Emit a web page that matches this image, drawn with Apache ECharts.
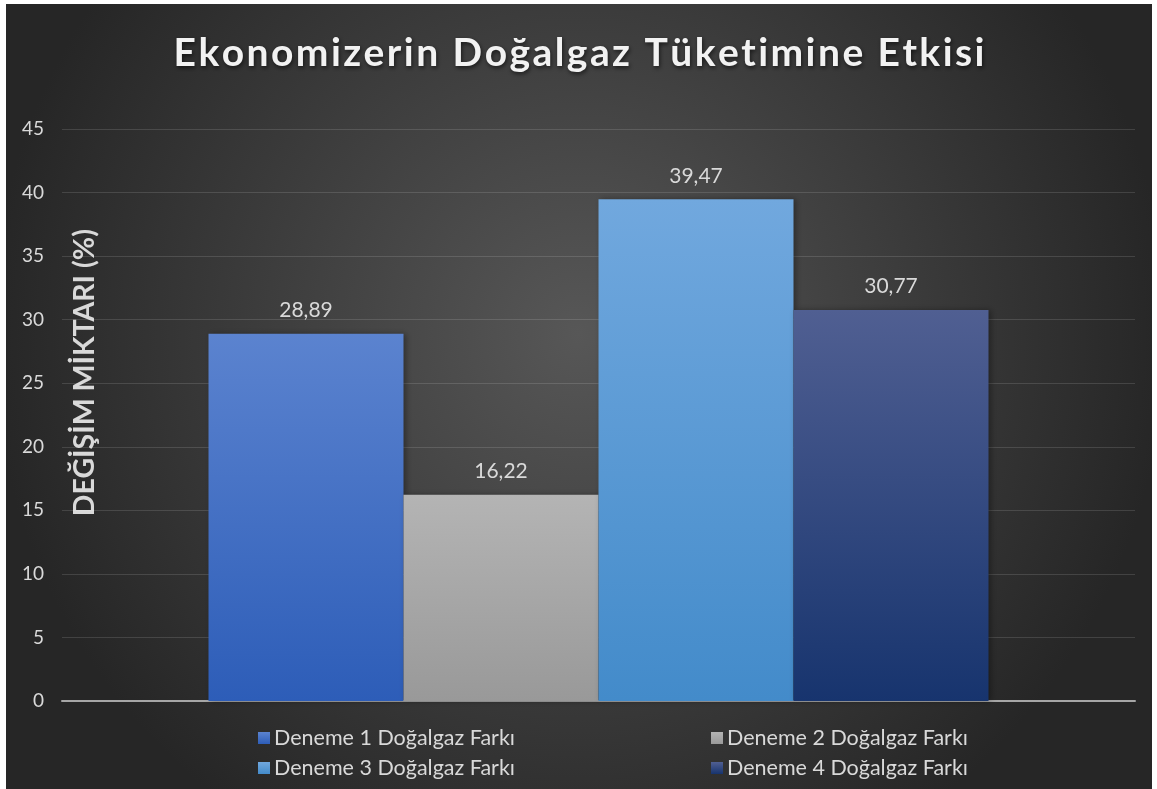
<!DOCTYPE html>
<html>
<head>
<meta charset="utf-8">
<script src="https://cdn.jsdelivr.net/npm/echarts@6/dist/echarts.min.js"></script>
<style>
  html, body { margin: 0; padding: 0; background: #ffffff; width: 1157px; height: 789px; overflow: hidden; }
  #chart { position: absolute; left: 6px; top: 4px; width: 1146px; height: 785px; }
</style>
</head>
<body>
<div id="chart"></div>
<script>
// Chart content
const titleText = 'Ekonomizerin Doğalgaz Tüketimine Etkisi';
const yAxisName = 'DEĞİŞİM MİKTARI (%)';
const categories = [''];
const seriesNames = [
  'Deneme 1 Doğalgaz Farkı',
  'Deneme 2 Doğalgaz Farkı',
  'Deneme 3 Doğalgaz Farkı',
  'Deneme 4 Doğalgaz Farkı'
];
const seriesValues = [28.89, 16.22, 39.47, 30.77];
const yTicks = { min: 0, max: 45, interval: 5 };

// Vertical gradients per bar (top, bottom)
const barColors = [
  ['#5b83cf', '#2d5db8'],
  ['#b4b4b4', '#999999'],
  ['#71a8de', '#438bca'],
  ['#505f92', '#17346e']
];

const FONT = 'Lato, "Open Sans", sans-serif';
const TEXT = '#d9d9d9';

// Spread the title letters apart with hair spaces
const spaced = s => s.split('').join('\u200A');

const chart = echarts.init(document.getElementById('chart'), null, { renderer: 'canvas' });

const series = seriesNames.map((name, i) => ({
  name: name,
  type: 'bar',
  data: [seriesValues[i]],
  barWidth: 195,
  barGap: '0%',
  itemStyle: {
    color: new echarts.graphic.LinearGradient(0, 0, 0, 1, [
      { offset: 0, color: barColors[i][0] },
      { offset: 1, color: barColors[i][1] }
    ]),
    shadowColor: 'rgba(0,0,0,0.35)',
    shadowBlur: 6,
    shadowOffsetX: 2
  },
  label: {
    show: true,
    position: 'top',
    distance: 13,
    color: TEXT,
    fontFamily: FONT,
    fontSize: 21,
    formatter: p => p.value.toFixed(2).replace('.', ',')
  }
}));

// One legend block per entry, laid out in two columns
const legendPos = [
  { left: 247, top: 718 },
  { left: 700, top: 718 },
  { left: 247, top: 748 },
  { left: 700, top: 748 }
];
const legends = seriesNames.map((name, i) => ({
  data: [name],
  left: legendPos[i].left,
  top: legendPos[i].top,
  icon: 'rect',
  itemWidth: 12,
  itemHeight: 12,
  itemGap: 0,
  selectedMode: false,
  textStyle: { color: TEXT, fontFamily: FONT, fontSize: 21.5, padding: [0, 0, 0, -1] }
}));

chart.setOption({
  backgroundColor: new echarts.graphic.RadialGradient(0.5, 0.42, 0.75, [
    { offset: 0, color: '#575757' },
    { offset: 1, color: '#262626' }
  ]),
  animation: false,
  title: {
    text: spaced(titleText),
    left: 'center',
    top: 25,
    textStyle: {
      color: '#f2f2f2',
      fontFamily: FONT,
      fontWeight: 'bold',
      fontSize: 39,
      textShadowColor: 'rgba(0,0,0,0.6)',
      textShadowBlur: 4,
      textShadowOffsetX: 1,
      textShadowOffsetY: 2
    }
  },
  legend: legends,
  grid: { left: 56, right: 17, top: 125, bottom: 88, containLabel: false },
  xAxis: {
    type: 'category',
    data: categories,
    axisTick: { show: false },
    axisLabel: { show: false },
    axisLine: { lineStyle: { color: '#a6a6a6', width: 2 } }
  },
  yAxis: {
    type: 'value',
    min: yTicks.min,
    max: yTicks.max,
    interval: yTicks.interval,
    axisLine: { show: false },
    axisTick: { show: false },
    axisLabel: { color: TEXT, fontFamily: FONT, fontSize: 19, margin: 18 },
    splitLine: { lineStyle: { color: 'rgba(255,255,255,0.13)', width: 1 } }
  },
  graphic: [{
    type: 'text',
    left: 64,
    top: 225,
    rotation: Math.PI / 2,
    style: {
      text: yAxisName,
      fill: TEXT,
      font: 'bold 28.5px ' + FONT,
      textAlign: 'center',
      textVerticalAlign: 'middle'
    }
  }],
  series: series
});
</script>
</body>
</html>
